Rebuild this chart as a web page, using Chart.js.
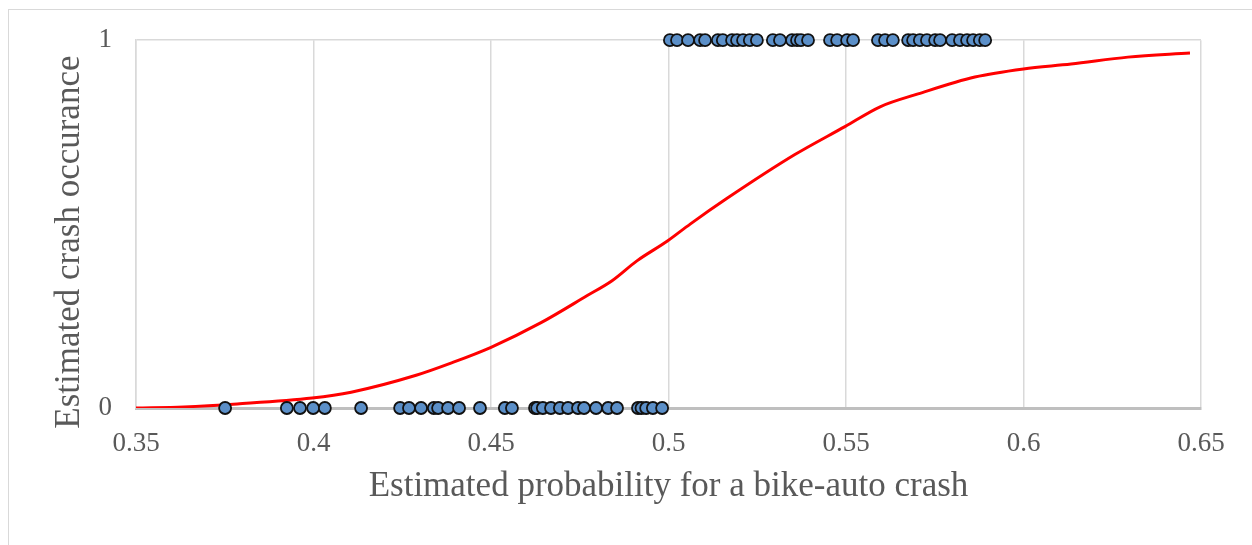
<!DOCTYPE html>
<html>
<head>
<meta charset="utf-8">
<script src="https://cdn.jsdelivr.net/npm/chart.js@4.4.1/dist/chart.umd.min.js"></script>
<style>
  html, body { margin: 0; padding: 0; background: #fff; overflow: hidden; }
  #frame { position: absolute; left: 8px; top: 9px; width: 1400px; height: 700px; border: 1px solid #d9d9d9; }
  #wrap { position: absolute; left: 0; top: 0; width: 1252px; height: 545px; }
</style>
</head>
<body>
<div id="frame"></div>
<div id="wrap"><canvas id="chart"></canvas></div>
<script>
// Observações sem acidente (y = 0)
const zeroX = [0.3751, 0.3925, 0.3962, 0.3999, 0.4032, 0.4134, 0.4244, 0.4269, 0.4303, 0.4339,
  0.4351, 0.4379, 0.441, 0.4469, 0.4539, 0.4559, 0.4624, 0.463, 0.4646, 0.4669,
  0.4694, 0.4717, 0.4745, 0.4762, 0.4796, 0.483, 0.4855, 0.4914, 0.4924, 0.4937,
  0.4956, 0.4982];

// Observações com acidente (y = 1)
const oneX = [0.5004, 0.5024, 0.5055, 0.5089, 0.5103, 0.5139, 0.5153, 0.5179, 0.5193, 0.521,
  0.5229, 0.5249, 0.5294, 0.5314, 0.5348, 0.5362, 0.5373, 0.5393, 0.5455, 0.5475,
  0.5503, 0.552, 0.559, 0.561, 0.5632, 0.5675, 0.5689, 0.5708, 0.5728, 0.5751,
  0.5765, 0.5799, 0.5821, 0.5841, 0.5858, 0.5877, 0.5892];

// Curva logística ajustada
const curveX = [0.35, 0.3635, 0.3785, 0.3996, 0.4106, 0.4289, 0.4387, 0.45, 0.4641, 0.477,
  0.4841, 0.4911, 0.4997, 0.5061, 0.5165, 0.5356, 0.5497, 0.5596, 0.5703, 0.5863,
  0.6, 0.6134, 0.6294, 0.6469];
const curveY = [0, 0.003, 0.011, 0.027, 0.043, 0.089, 0.122, 0.165, 0.232, 0.305,
  0.346, 0.4, 0.454, 0.5, 0.57, 0.689, 0.765, 0.819, 0.854, 0.9,
  0.922, 0.935, 0.954, 0.965];

const xTicks = [0.35, 0.4, 0.45, 0.5, 0.55, 0.6, 0.65];
const yTicks = [0, 1];
const yTitle = 'Estimated crash occurance';

const txt = '#595959';
const serif = 'Liberation Serif';

const points = zeroX.map(x => ({ x: x, y: 0 })).concat(oneX.map(x => ({ x: x, y: 1 })));
const curve = curveX.map((x, i) => ({ x: x, y: curveY[i] }));

// Título do eixo Y desenhado à mão (fica um pouco abaixo do centro, como no original)
const yTitlePlugin = {
  id: 'yTitle',
  afterDraw(chart) {
    const c = chart.ctx;
    const a = chart.chartArea;
    c.save();
    c.translate(70, (a.top + a.bottom) / 2 + 18);
    c.rotate(-Math.PI / 2);
    c.font = '35px "' + serif + '"';
    c.fillStyle = txt;
    c.textAlign = 'center';
    c.textBaseline = 'middle';
    c.fillText(yTitle, 0, 0);
    c.restore();
  }
};

const ctx = document.getElementById('chart').getContext('2d');

new Chart(ctx, {
  type: 'scatter',
  data: {
    datasets: [{
      label: 'Observed',
      data: points,
      pointRadius: 6,
      pointBorderWidth: 1.8,
      pointBackgroundColor: '#5b8fc8',
      pointBorderColor: '#111',
      clip: false,
      order: 0
    }, {
      label: 'Fitted',
      data: curve,
      showLine: true,
      borderColor: '#ff0000',
      borderWidth: 3,
      pointRadius: 0,
      cubicInterpolationMode: 'monotone',
      order: 1
    }]
  },
  plugins: [yTitlePlugin],
  options: {
    responsive: true,
    maintainAspectRatio: false,
    animation: false,
    layout: { padding: { top: 38, right: 51, bottom: 0, left: 0 } },
    plugins: { legend: { display: false }, tooltip: { enabled: false } },
    scales: {
      x: {
        type: 'linear',
        min: 0.35,
        max: 0.65,
        afterBuildTicks: s => { s.ticks = xTicks.map(v => ({ value: v })); },
        afterFit: s => { s.height = 137; },
        grid: { color: '#d9d9d9', lineWidth: 1.5, drawTicks: false },
        border: { color: '#bfbfbf', width: 3 },
        ticks: {
          color: txt, padding: 20, maxRotation: 0,
          font: { family: serif, size: 27 },
          callback: v => String(Math.round(v * 100) / 100)
        },
        title: {
          display: true,
          text: 'Estimated probability for a bike-auto crash',
          color: txt,
          font: { family: serif, size: 35 },
          padding: { top: 0, bottom: 37 }
        }
      },
      y: {
        type: 'linear',
        min: 0,
        max: 1,
        afterBuildTicks: s => { s.ticks = yTicks.map(v => ({ value: v })); },
        afterFit: s => { s.width = 136; },
        grid: { color: '#d9d9d9', lineWidth: 1.5, drawTicks: false },
        border: { color: '#d9d9d9', width: 1.5 },
        ticks: {
          color: txt, padding: 24,
          font: { family: serif, size: 27 }
        }
      }
    }
  }
});
</script>
</body>
</html>
